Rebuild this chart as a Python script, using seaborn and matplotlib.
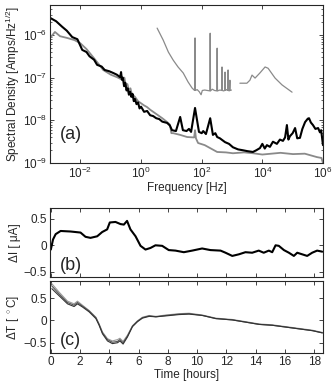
import numpy as np
import matplotlib
matplotlib.use("Agg")
import matplotlib.pyplot as plt
import matplotlib.ticker as mticker
import seaborn as sns

sns.set_style("ticks")
plt.rcParams['font.family'] = ['Liberation Sans', 'DejaVu Sans']
plt.rcParams['mathtext.fontset'] = 'custom'
plt.rcParams['mathtext.rm'] = 'Liberation Sans'
plt.rcParams['mathtext.it'] = 'Liberation Sans:italic'
plt.rcParams['font.size'] = 8.5
plt.rcParams['xtick.direction'] = 'in'
plt.rcParams['ytick.direction'] = 'in'
plt.rcParams['xtick.top'] = True
plt.rcParams['ytick.right'] = True

# (a) spectral density, log10 frequency / log10 amplitude
black_lf = [-3.0, -2.8, -2.6, -2.45, -2.27, -2.1, -1.94, -1.8, -1.7, -1.55, -1.45, -1.3, -1.2, -1.05,
            -0.92, -0.8, -0.69, -0.66, -0.63, -0.6, -0.56, -0.52, -0.48, -0.44, -0.4, -0.36, -0.32,
            -0.28, -0.24, -0.2, -0.15, -0.1, -0.05, 0.0, 0.1, 0.2, 0.3, 0.4, 0.5, 0.6, 0.7, 0.86,
            0.95, 1.02, 1.15, 1.29, 1.38, 1.5, 1.58, 1.65, 1.78, 1.91, 2.0, 2.05, 2.14, 2.28, 2.37,
            2.45, 2.51, 2.6, 2.77, 2.9, 3.03, 3.2, 3.36, 3.5, 3.69, 3.8, 3.92, 4.0, 4.08, 4.15, 4.25,
            4.35, 4.48, 4.58, 4.68, 4.75, 4.81, 4.86, 4.91, 5.0, 5.08, 5.15, 5.24, 5.32, 5.41, 5.5,
            5.54, 5.6, 5.67, 5.75, 5.84, 5.9, 5.94, 6.0]
black_ls = [-5.6, -5.68, -5.81, -5.9, -6.05, -6.1, -6.35, -6.4, -6.5, -6.58, -6.7, -6.74, -6.82, -6.85,
            -6.89, -6.93, -6.99, -6.87, -7.05, -7.0, -7.2, -7.12, -7.3, -7.25, -7.4, -7.33, -7.45,
            -7.38, -7.55, -7.5, -7.62, -7.58, -7.72, -7.68, -7.8, -7.78, -7.88, -7.9, -7.95, -7.97,
            -8.03, -8.06, -8.12, -8.23, -8.25, -7.92, -8.23, -8.25, -8.2, -8.27, -7.71, -8.27, -8.3,
            -8.25, -8.32, -7.95, -8.34, -8.3, -8.39, -8.42, -8.51, -8.55, -8.63, -8.68, -8.7, -8.72,
            -8.74, -8.7, -8.65, -8.55, -8.66, -8.58, -8.62, -8.5, -8.55, -8.45, -8.48, -8.4, -8.11,
            -8.45, -8.37, -8.3, -8.18, -8.42, -8.41, -8.2, -8.04, -7.96, -7.95, -8.05, -8.11, -8.2,
            -8.18, -8.28, -8.23, -8.58]
gray_lf = [-3.0, -2.84, -2.67, -2.44, -2.2, -2.01, -1.8, -1.58, -1.4, -1.25, -1.0, -0.79, -0.59, -0.55,
           -0.5, -0.45, -0.4, -0.35, -0.3, -0.26, -0.2, -0.1, 0.0, 0.1, 0.2, 0.3, 0.5, 0.7, 0.86,
           0.95, 1.0, 1.06, 1.29, 1.52, 1.75, 1.78, 1.81, 1.88, 2.1, 2.28, 2.51, 2.8, 3.03, 3.4, 3.69,
           4.0, 4.15, 4.6, 5.01, 5.4, 5.8, 5.95, 6.0]
gray_ls = [-6.07, -5.93, -6.03, -6.07, -6.12, -6.19, -6.33, -6.52, -6.68, -6.82, -6.93, -6.99, -7.06,
           -7.0, -7.2, -7.15, -7.3, -7.25, -7.4, -7.41, -7.45, -7.55, -7.6, -7.65, -7.69, -7.75,
           -7.85, -7.95, -8.04, -8.1, -8.3, -8.3, -8.34, -8.39, -8.4, -8.23, -8.42, -8.53, -8.58,
           -8.65, -8.74, -8.75, -8.77, -8.75, -8.77, -8.8, -8.79, -8.76, -8.79, -8.78, -8.86, -8.88,
           -9.0]
inset1_lf = [0.53, 0.73, 0.9, 1.06, 1.22, 1.39, 1.55, 1.68, 1.75, 1.77, 1.78, 1.79, 1.85, 1.92, 1.98,
             2.02, 2.1, 2.27, 2.28, 2.29, 2.35, 2.42, 2.5, 2.51, 2.52, 2.6, 2.66, 2.67, 2.68, 2.72, 2.76,
             2.77, 2.78, 2.82, 2.86, 2.87, 2.88, 2.91, 2.93, 2.94, 2.98]
inset1_ls = [-5.84, -6.12, -6.4, -6.59, -6.75, -6.89, -7.1, -7.24, -7.29, -7.3, -6.07, -7.3, -7.28, -7.33, -7.4,
             -7.3, -7.29, -7.31, -5.96, -7.31, -7.27, -7.3, -7.31, -6.31, -7.31, -7.29, -7.3, -6.75, -7.3, -7.31,
             -7.3, -6.87, -7.3, -7.28, -7.3, -6.82, -7.3, -7.31, -7.06, -7.3, -7.29]
inset2_lf = [3.26, 3.49, 3.59, 3.66, 3.76, 3.92, 4.09, 4.19, 4.42, 4.65, 4.98]
inset2_ls = [-7.13, -7.13, -7.06, -6.94, -7.01, -6.89, -6.75, -6.78, -7.01, -7.17, -7.34]

# (b) current drift
t_b = [0.0, 0.15, 0.33, 0.67, 1.35, 2.03, 2.37, 2.71, 3.17, 3.51, 3.85, 4.03, 4.42, 4.76, 4.99, 5.21,
       5.44, 5.79, 6.13, 6.47, 6.81, 7.15, 7.61, 8.06, 8.52, 9.09, 9.66, 10.34, 10.91, 11.6, 11.94,
       12.4, 12.85, 13.3, 13.76, 14.21, 14.55, 14.9, 15.13, 15.36, 15.58, 15.93, 16.27, 16.61, 16.84,
       17.18, 17.52, 17.86, 18.2, 18.55]
dI = [-0.08, 0.11, 0.21, 0.27, 0.26, 0.24, 0.16, 0.14, 0.17, 0.25, 0.3, 0.43, 0.44, 0.4, 0.39, 0.46,
      0.3, 0.17, -0.01, -0.08, -0.05, 0.0, -0.01, -0.09, -0.1, -0.13, -0.1, -0.06, -0.09, -0.1, -0.14,
      -0.2, -0.17, -0.13, -0.14, -0.1, -0.14, -0.1, -0.13, 0.0, -0.01, -0.09, -0.14, -0.2, -0.14,
      -0.17, -0.2, -0.14, -0.1, -0.12]

# (c) temperature drift, three sensors
t_c = [0.07, 0.57, 1.14, 1.59, 1.82, 2.16, 2.62, 3.08, 3.3, 3.53, 3.87, 4.21, 4.56, 4.72, 4.94, 5.24,
       5.58, 5.92, 6.26, 6.72, 7.18, 7.86, 8.77, 9.45, 10.36, 11.28, 12.41, 13.33, 14.24, 15.15,
       16.06, 16.97, 17.88, 18.56]
dT1 = [0.82, 0.63, 0.43, 0.37, 0.43, 0.34, 0.22, 0.07, -0.08, -0.26, -0.41, -0.46, -0.43, -0.4, -0.47,
       -0.33, -0.12, -0.01, 0.07, 0.11, 0.09, 0.12, 0.15, 0.16, 0.12, 0.05, 0.02, -0.03, -0.08, -0.1,
       -0.14, -0.18, -0.22, -0.27]
dT2 = [0.77, 0.59, 0.4, 0.34, 0.4, 0.32, 0.21, 0.06, -0.09, -0.28, -0.43, -0.49, -0.47, -0.43, -0.5,
       -0.35, -0.13, -0.02, 0.06, 0.1, 0.08, 0.11, 0.14, 0.15, 0.11, 0.04, 0.01, -0.04, -0.09, -0.11,
       -0.15, -0.19, -0.23, -0.28]
dT3 = [0.71, 0.55, 0.37, 0.31, 0.37, 0.3, 0.19, 0.04, -0.11, -0.3, -0.46, -0.52, -0.5, -0.46, -0.53,
       -0.37, -0.14, -0.03, 0.05, 0.09, 0.08, 0.1, 0.13, 0.14, 0.11, 0.04, 0.01, -0.04, -0.09, -0.11,
       -0.15, -0.19, -0.23, -0.28]

fig = plt.figure(figsize=(3.34, 3.92), dpi=100)
ax1 = fig.add_axes([0.150, 0.584, 0.817, 0.403])
ax2 = fig.add_axes([0.150, 0.293, 0.817, 0.176])
ax3 = fig.add_axes([0.150, 0.0995, 0.817, 0.1835])

gray = '#8a8a8a'
lw_kw = dict(estimator=None, sort=False)

def pw(a):
    return 10.0 ** np.array(a)

sns.lineplot(x=pw(gray_lf), y=pw(gray_ls), color=gray, lw=1.3, ax=ax1, **lw_kw)
sns.lineplot(x=pw(black_lf), y=pw(black_ls), color='black', lw=1.5, ax=ax1, **lw_kw)
sns.lineplot(x=pw(inset1_lf), y=pw(inset1_ls), color=gray, lw=0.9, ax=ax1, **lw_kw)
sns.lineplot(x=pw(inset2_lf), y=pw(inset2_ls), color=gray, lw=0.9, ax=ax1, **lw_kw)
ax1.set_xscale('log')
ax1.set_yscale('log')
ax1.set_xlim(1e-3, 1e6)
ax1.set_ylim(1e-9, 5e-6)
ax1.xaxis.set_major_locator(mticker.FixedLocator([1e-2, 1e0, 1e2, 1e4, 1e6]))
ax1.xaxis.set_minor_locator(mticker.NullLocator())
ax1.yaxis.set_major_locator(mticker.FixedLocator([1e-9, 1e-8, 1e-7, 1e-6]))
ax1.set_xlabel('Frequency [Hz]', labelpad=1)
ax1.set_ylabel('Spectral Density [Amps/Hz$^{1/2}$]', labelpad=1)
ax1.text(0.035, 0.18, '(a)', transform=ax1.transAxes, fontsize=13, va='center')

sns.lineplot(x=t_b, y=dI, color='black', lw=1.5, ax=ax2, **lw_kw)
ax2.set_xlim(-0.05, 18.6)
ax2.set_ylim(-0.6, 0.7)
ax2.set_yticks([-0.5, 0, 0.5])
ax2.set_yticklabels(['\u22120.5', '0', '0.5'])
ax2.set_xticks(range(0, 19, 2))
ax2.set_xticklabels([])
ax2.set_ylabel('\u0394I [ \u03bcA]', labelpad=2)
ax2.text(0.035, 0.17, '(b)', transform=ax2.transAxes, fontsize=13, va='center')

sns.lineplot(x=t_c, y=dT1, color='#9a9a9a', lw=0.8, ax=ax3, **lw_kw)
sns.lineplot(x=t_c, y=dT2, color='#555555', lw=0.8, ax=ax3, **lw_kw)
sns.lineplot(x=t_c, y=dT3, color='#333333', lw=0.8, ax=ax3, **lw_kw)
ax3.set_xlim(-0.05, 18.6)
ax3.set_ylim(-0.73, 0.88)
ax3.set_yticks([-0.5, 0, 0.5])
ax3.set_yticklabels(['\u22120.5', '0', '0.5'])
ax3.set_xticks(range(0, 19, 2))
ax3.set_xlabel('Time [hours]', labelpad=1)
ax3.set_ylabel('\u0394T [ $^\\circ$C]', labelpad=2)
ax3.text(0.035, 0.17, '(c)', transform=ax3.transAxes, fontsize=13, va='center')

for ax in (ax1, ax2, ax3):
    for s in ax.spines.values():
        s.set_linewidth(0.8)
        s.set_visible(True)
    ax.tick_params(which='major', length=3, width=0.6, pad=2)
    ax.tick_params(which='minor', length=1.5, width=0.5)

fig.savefig('out.png', dpi=100)
